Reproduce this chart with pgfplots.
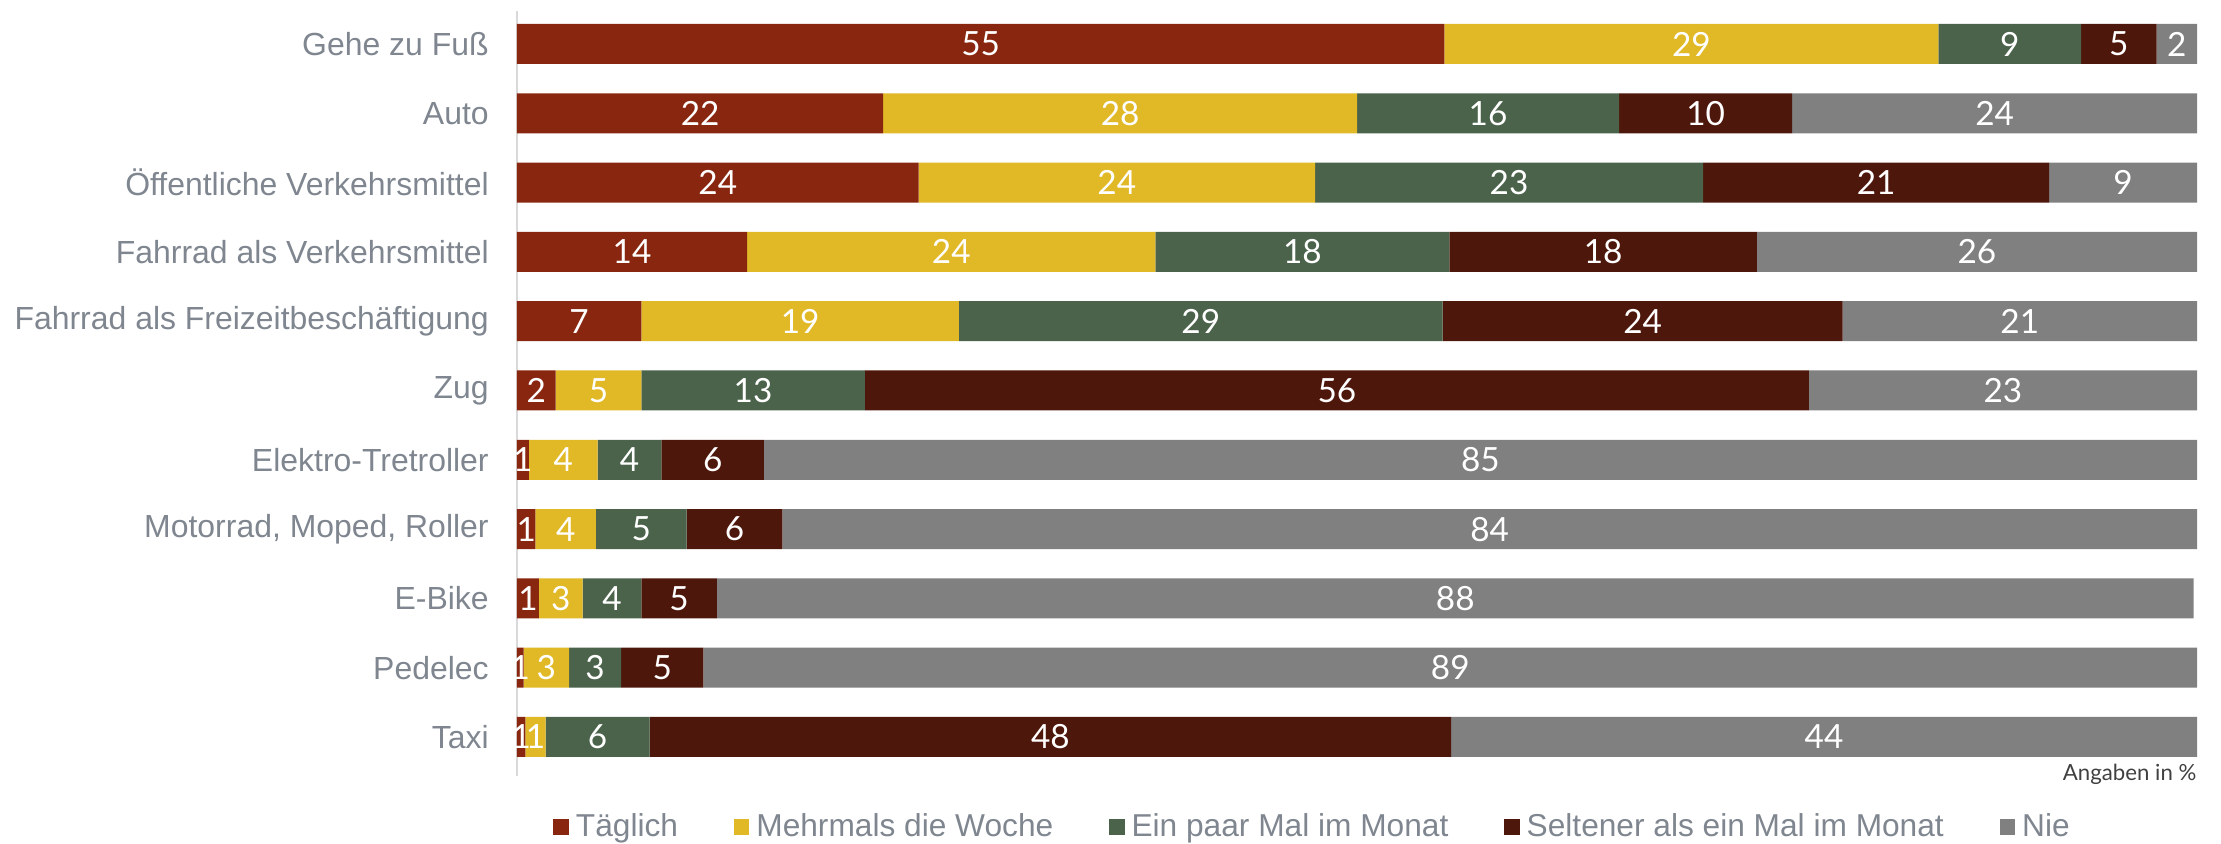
\documentclass[border=0pt]{standalone}
\usepackage{fontspec}
\setmainfont{Liberation Sans}
\newfontfamily\lato{Lato}
\usepackage{pgfplots}
\pgfplotsset{compat=1.18}
\definecolor{cTag}{RGB}{137,38,16}
\definecolor{cWoche}{RGB}{225,184,38}
\definecolor{cMonat}{RGB}{74,99,74}
\definecolor{cSelten}{RGB}{78,23,11}
\definecolor{cNie}{RGB}{128,128,128}
\definecolor{labgray}{RGB}{127,134,143}
\definecolor{axgray}{RGB}{217,217,217}
\definecolor{notegray}{RGB}{64,64,64}
\begin{document}
\begin{tikzpicture}
\begin{axis}[
  scale only axis, width=604.8pt, height=275.4pt,
  xbar stacked, bar width=14.4pt,
  xmin=0, xmax=100, ymin=-0.476, ymax=10.563,
  y dir=reverse, clip=false,
  axis x line=none, axis y line*=left,
  y axis line style={draw=axgray, line width=0.6pt},
  ytick={0,...,10},
  yticklabels={Gehe zu Fuß, Auto, Öffentliche Verkehrsmittel, Fahrrad als Verkehrsmittel, Fahrrad als Freizeitbeschäftigung, Zug, Elektro-Tretroller, {Motorrad, Moped, Roller}, E-Bike, Pedelec, Taxi},
  major tick length=0pt, ytick style={draw=none},
  yticklabel style={font=\fontsize{11.5}{13}\selectfont, text=labgray, inner sep=0pt, xshift=-10pt},
  legend image code/.code={\fill (0pt,-2.8pt) rectangle (5.6pt,2.8pt);},
  legend columns=5,
  legend cell align=left,
  legend style={at={(0.0214,-0.0667)}, anchor=west, draw=none, fill=none, inner sep=0pt,
    font=\fontsize{11.4}{13}\selectfont, text=labgray,
    nodes={inner sep=0pt},
    /tikz/every odd column/.append style={column sep=2.5pt},
    /tikz/every even column/.append style={column sep=20.1pt}},
]
\addplot[fill=cTag, draw=none] coordinates {(55.2,0) (21.8,1) (23.9,2) (13.7,3) (7.4,4) (2.3,5) (0.7,6) (1.1,7) (1.3,8) (0.4,9) (0.5,10)};
\addlegendentry{Täglich}
\addplot[fill=cWoche, draw=none] coordinates {(29.4,0) (28.2,1) (23.6,2) (24.3,3) (18.9,4) (5.1,5) (4.1,6) (3.6,7) (2.6,8) (2.7,9) (1.2,10)};
\addlegendentry{Mehrmals die Woche}
\addplot[fill=cMonat, draw=none] coordinates {(8.5,0) (15.6,1) (23.1,2) (17.5,3) (28.8,4) (13.3,5) (3.8,6) (5.4,7) (3.5,8) (3.1,9) (6.2,10)};
\addlegendentry{Ein paar Mal im Monat}
\addplot[fill=cSelten, draw=none] coordinates {(4.5,0) (10.3,1) (20.6,2) (18.3,3) (23.8,4) (56.2,5) (6.1,6) (5.7,7) (4.5,8) (4.9,9) (47.7,10)};
\addlegendentry{Seltener als ein Mal im Monat}
\addplot[fill=cNie, draw=none] coordinates {(2.4,0) (24.1,1) (8.8,2) (26.2,3) (21.1,4) (23.1,5) (85.3,6) (84.2,7) (87.9,8) (88.9,9) (44.4,10)};
\addlegendentry{Nie}
\node[anchor=base east, inner sep=0pt, font=\lato\fontsize{8}{9}\selectfont, text=notegray] at (axis description cs:1,0) [yshift=-1.5pt] {Angaben in \%};
\end{axis}
\begin{axis}[
  scale only axis, width=604.8pt, height=275.4pt,
  xmin=0, xmax=100, ymin=-0.476, ymax=10.563,
  y dir=reverse, hide axis, clip=false,
]
\addplot[draw=none, mark=none, nodes near coords, point meta=explicit symbolic,
  nodes near coords style={anchor=center, inner sep=0pt, text=white, font=\lato\fontsize{12}{14}\selectfont}]
  table[meta=l] {
x y l
27.6 0 55
69.9 0 29
88.85 0 9
95.35 0 5
98.8 0 2
10.9 1 22
35.9 1 28
57.8 1 16
70.75 1 10
87.95 1 24
11.95 2 24
35.7 2 24
59.05 2 23
80.9 2 21
95.6 2 9
6.85 3 14
25.85 3 24
46.75 3 18
64.65 3 18
86.9 3 26
3.7 4 7
16.85 4 19
40.7 4 29
67.0 4 24
89.45 4 21
1.15 5 2
4.85 5 5
14.05 5 13
48.8 5 56
88.45 5 23
0.35 6 1
2.75 6 4
6.7 6 4
11.65 6 6
57.35 6 85
0.55 7 1
2.9 7 4
7.4 7 5
12.95 7 6
57.9 7 84
0.65 8 1
2.6 8 3
5.65 8 4
9.65 8 5
55.85 8 88
0.2 9 1
1.75 9 3
4.65 9 3
8.65 9 5
55.55 9 89
0.25 10 1
1.1 10 1
4.8 10 6
31.75 10 48
77.8 10 44
};
\end{axis}
\pgfresetboundingbox
\useasboundingbox (-186.12pt,-24.48pt) rectangle (613.44pt,279.36pt);
\end{tikzpicture}
\end{document}
